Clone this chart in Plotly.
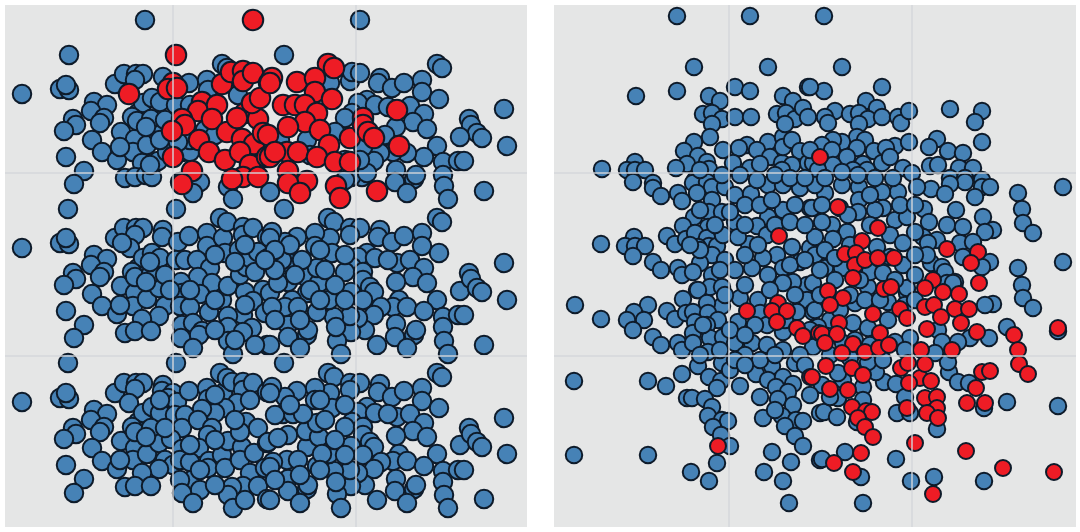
import plotly.graph_objects as go

# The axes run in the picture's own reading units.
grid_left_x = [173, 356]
grid_right_x = [729, 912]
grid_y = [173, 356]

left_blue_top = [(145,20),(360,20),(69,55),(284,55),(22,94),(60,89),(69,90),(66,85),(115,84),(124,74),(136,74),(143,74),(135,80),
(163,77),(189,83),(207,80),(222,64),(227,68),(94,102),(107,105),(91,111),(104,118),(100,123),(73,119),(76,125),(64,131),
(92,140),(102,152),(117,160),(66,157),(84,171),(74,184),(121,132),(135,139),(133,152),(147,145),(158,133),(138,113),(143,103),
(152,98),(160,102),(132,117),(137,121),(151,119),(146,127),(176,105),(142,163),(158,161),(125,178),(135,177),(146,175),(152,177),
(167,152),(182,152),(190,152),(200,182),(193,193),(228,187),(233,199),(180,182),(208,90),(238,95),(330,83),(350,81),(352,72),(360,73),
(380,78),(378,83),(392,88),(404,83),(422,80),(422,92),(437,64),(442,68),(439,99),(504,109),(507,146),(469,119),(471,125),(477,133),(482,138),
(460,137),(367,100),(358,103),(375,105),(352,113),(345,118),(388,107),(410,106),(424,114),(413,122),(396,127),(427,129),(437,146),(424,157),
(443,162),(458,161),(464,161),(407,153),(393,152),(380,153),(374,161),(396,170),(395,182),(414,179),(416,175),(407,193),(443,175),(444,186),
(448,199),(484,191),(362,177),(351,177),(367,173),(270,192),(307,140),(335,132),(363,147),(165,120),(190,105),(205,130),(175,130),(190,140),
(215,135),(280,140),(345,160),(310,155),(255,165),(160,140),(178,142),(345,180),(360,160),(385,135),(150,165),(120,147)]

left_red_top = [(253,20),(176,55),(129,94),(173,83),(168,89),(177,88),(222,84),(231,72),(243,71),(243,81),(253,73),(269,83),(202,102),(198,111),
(217,105),(212,119),(182,119),(185,125),(172,131),(199,140),(227,132),(245,113),(258,119),(252,103),(260,98),(237,118),(242,139),(254,144),(209,152),
(225,160),(240,152),(173,157),(192,171),(182,184),(250,165),(243,177),(232,179),(258,177),(267,157),(263,133),(328,64),(334,68),(272,78),(270,83),
(297,82),(315,78),(315,92),(332,99),(283,105),(295,105),(305,105),(317,113),(305,122),(320,130),(288,127),(268,135),(350,138),(397,110),(363,118),
(363,125),(368,132),(374,138),(399,146),(287,152),(298,152),(329,145),(317,157),(335,162),(350,162),(288,171),(307,181),(288,183),(300,193),(336,186),
(340,198),(377,191),(270,157),(275,152)]

left_blue_mid = [(68,209),(176,209),(22,248),(60,243),(69,244),(66,238),(115,238),(124,228),(136,228),(143,228),(135,235),(130,248),(122,243),
(163,230),(162,237),(178,242),(189,236),(207,233),(207,246),(223,238),(220,218),(227,222),(243,227),(243,235),(253,228),(225,253),(239,250),(267,237),
(94,255),(107,259),(91,265),(104,272),(100,277),(73,273),(76,279),(64,285),(92,294),(102,306),(117,314),(66,311),(84,325),(74,338),(121,286),(135,293),
(133,306),(147,299),(159,288),(138,268),(143,258),(152,253),(160,258),(132,272),(135,277),(151,274),(146,282),(176,260),(185,260),(197,260),(210,268),
(198,277),(212,283),(181,282),(200,294),(182,293),(165,306),(180,306),(190,307),(159,316),(142,319),(209,312),(222,300),(228,286),(245,292),(240,275),
(246,267),(250,258),(258,252),(255,272),(263,290),(253,301),(243,315),(228,316),(228,327),(265,313),(125,333),(135,331),(151,331),(182,325),(193,323),
(202,331),(199,335),(181,338),(193,348),(228,341),(233,354),(252,328),(243,332),(267,345),(284,209),(328,218),(334,222),(350,228),(360,228),(350,235),
(330,238),(315,233),(315,246),(332,253),(297,237),(285,242),(272,232),(270,238),(380,230),(378,237),(392,242),(404,236),(422,233),(422,246),(437,218),
(442,222),(439,253),(367,253),(358,257),(375,258),(352,267),(345,272),(363,272),(363,280),(370,287),(374,292),(351,292),(363,300),(397,263),(388,260),
(410,260),(424,268),(413,277),(396,282),(427,283),(460,291),(469,273),(471,279),(477,288),(482,292),(504,263),(507,300),(437,300),(399,300),(393,307),
(407,307),(381,307),(374,315),(424,311),(443,317),(458,315),(464,315),(443,327),(444,341),(448,354),(484,345),(396,324),(395,337),(414,335),(416,330),
(407,348),(377,345),(365,330),(358,318),(351,332),(350,316),(337,341),(334,317),(336,327),(341,354),(317,312),(329,300),(307,293),(307,335),(308,330),
(288,325),(288,337),(300,348),(270,345),(292,300),(285,307),(298,307),(270,293),(272,307),(288,282),(278,283),(306,277),(319,283),(317,268),(335,285),
(289,263),(282,260),(302,260),(268,258),(215,255),(235,262),(275,270),(295,275),(325,270),(345,255),(310,290),(320,300),(245,305),(215,300),(235,340),
(215,330),(275,320),(300,320),(255,345),(345,300),(150,262),(120,305),(165,275),(170,290),(190,290),(245,245),(290,245),(275,250),(320,250),(265,260)]

left_blue_low = [(68,363),(176,363),(22,402),(60,398),(69,399),(66,393),(115,393),(124,383),(136,383),(143,383),(135,389),(129,403),(163,385),(162,391),
(173,393),(168,398),(177,402),(189,391),(207,388),(208,399),(223,393),(220,373),(227,378),(232,382),(243,382),(243,390),(253,383),(237,403),(225,408),
(215,413),(202,409),(267,392),(94,410),(107,414),(91,420),(104,427),(100,432),(73,428),(76,434),(64,439),(92,448),(102,461),(117,469),(66,465),(84,479),
(74,493),(121,441),(135,448),(133,460),(147,454),(159,443),(138,422),(143,413),(152,407),(160,413),(132,427),(135,432),(151,428),(146,437),(175,415),
(185,415),(182,428),(198,420),(212,428),(208,435),(199,448),(171,439),(182,449),(165,460),(173,465),(180,460),(190,462),(159,469),(142,473),(209,461),
(208,468),(222,455),(228,441),(225,468),(242,447),(240,460),(254,453),(246,422),(258,428),(240,432),(267,443),(250,473),(265,468),(243,486),(258,486),
(232,487),(125,487),(135,486),(151,486),(192,480),(180,480),(200,490),(182,493),(193,503),(228,495),(233,508),(267,499),(284,363),(328,373),(334,377),
(350,383),(360,383),(350,390),(330,393),(315,388),(315,400),(332,408),(297,391),(285,397),(272,387),(270,393),(380,384),(378,392),(392,397),(404,391),
(422,388),(422,401),(437,373),(442,377),(439,408),(504,418),(507,454),(367,407),(358,412),(375,413),(352,422),(345,427),(363,427),(363,435),(370,442),
(374,447),(351,446),(363,455),(397,417),(388,414),(410,414),(424,423),(413,431),(396,436),(427,437),(460,445),(469,428),(471,434),(477,442),(482,447),
(437,454),(399,454),(393,461),(407,461),(381,462),(374,469),(424,466),(443,471),(458,470),(464,470),(443,482),(444,495),(448,508),(484,499),(396,479),
(395,491),(414,489),(416,485),(407,503),(377,500),(365,485),(358,473),(351,486),(350,470),(337,494),(334,471),(336,482),(341,508),(317,466),(329,454),
(307,447),(307,489),(308,485),(288,479),(288,491),(300,503),(270,500),(287,460),(273,462),(298,460),(268,442),(288,435),(278,438),(306,431),(319,437),
(317,423),(335,440),(283,414),(293,414),(303,414),(270,467),(322,454),(215,440),(200,470),(235,420),(250,400),(275,415),(320,470),(245,500),(215,485),
(300,475),(325,420),(345,405),(160,400),(120,460),(165,428),(345,455),(290,405),(190,445),(275,480),(320,400),(215,395)]

right_blue = [(677,16),(750,16),(694,67),(768,67),(636,96),(677,91),(735,87),(750,91),(709,96),(720,101),(703,114),(712,113),(722,119),(712,124),(710,137),
(735,117),(751,117),(694,142),(684,151),(698,156),(687,164),(676,168),(707,162),(709,169),(602,169),(635,162),(627,170),(635,170),(645,170),(768,142),(747,145),
(739,148),(757,150),(770,157),(733,163),(750,168),(760,164),(782,163),(783,137),(783,147),(792,140),(808,87),(783,96),(793,101),(777,114),(786,113),(795,119),
(785,124),(803,108),(808,117),(800,151),(808,163),(792,165),(782,170),(695,180),(633,182),(653,183),
(824,16),(842,67),(882,87),(824,91),(810,87),(866,101),(877,108),(835,111),(850,114),(859,113),(868,119),(859,124),(882,117),(825,117),(828,123),(898,117),(901,123),
(909,111),(950,109),(982,111),(975,122),(982,142),(937,139),(929,147),(948,151),(963,153),(930,166),(938,165),(959,168),(973,168),(857,137),(865,140),(842,142),
(833,140),(822,145),(832,150),(857,148),(874,151),(847,157),(895,146),(886,148),(909,142),(882,163),(833,165),(863,164),(903,168),(890,157),(912,173),(813,163),
(810,150),(818,170),(853,170),(867,170),(982,180),(950,178),(965,178),(1063,187),
(653,188),(661,196),(678,193),(682,201),(694,217),(683,226),(667,236),(675,244),(686,239),(634,237),(625,246),(635,246),(645,246),(633,256),(601,244),(653,262),
(661,270),(678,268),(682,275),(697,290),(683,299),(667,311),(675,319),(686,313),(648,305),(634,312),(644,320),(627,320),(633,330),(575,305),(601,319),(653,337),
(661,345),(678,343),(682,350),(693,183),(707,182),(712,187),(725,187),(697,193),(712,200),(709,212),(722,212),(708,227),(695,233),(707,238),(709,246),(717,246),
(698,247),(723,235),(712,255),(700,263),(725,260),(712,275),(693,272),(710,287),(722,287),(698,290),(722,306),(707,303),(693,312),(708,313),(718,320),(695,322),
(707,325),(693,333),(710,338),(723,337),(693,343),(708,352),(735,195),(751,194),(768,185),(783,185),(800,188),(783,210),(768,217),(757,226),(740,227),(735,222),
(810,208),(792,247),(749,244),(738,237),(767,235),(777,255),(763,258),(800,262),(752,268),(735,270),(783,268),(768,275),(807,285),(810,248),(793,282),(783,283),
(740,298),(758,300),(760,313),(738,322),(752,343),(735,343),(767,325),(783,350),(807,300),(813,312),(797,312),(783,332),(767,345),(813,347),
(1018,193),(1022,209),(1023,223),(1033,233),(1063,262),(1018,268),(1022,285),(1023,298),(1033,308),(1007,327),(993,304),(985,305),(989,338),(970,338),(1058,331),
(982,187),(990,187),(975,197),(965,182),(950,184),(931,189),(945,194),(956,210),(924,209),(929,222),(947,225),(963,227),(983,217),(993,230),(985,232),(937,240),
(923,237),(928,243),(960,243),(973,242),(963,257),(990,262),(982,267),(931,263),(942,267),(927,255),(945,272),(955,282),(947,283),(917,187),(898,192),(882,192),
(859,187),(842,185),(825,193),(815,185),(859,200),(840,208),(858,212),(883,208),(812,208),(832,225),(847,232),(815,237),(833,239),(895,220),(907,217),(875,210),
(890,235),(903,243),(877,247),(815,255),(825,268),(842,268),(868,287),(870,272),(883,273),(903,265),(890,257),(813,283),(855,303),(888,302),(815,310),(830,320),
(853,323),(868,328),(888,320),(818,327),(910,338),(938,330),(942,342),(958,342),(953,283),(907,293),(843,343),(895,342),(907,288),
(574,381),(648,381),(666,386),(682,374),(698,366),(709,377),(721,381),(717,388),(722,363),(730,370),(740,386),(687,398),(692,398),(705,399),(712,407),(708,416),
(722,420),(728,421),(713,427),(721,435),(730,446),(717,463),(691,472),(709,481),(574,455),(648,455),(772,366),(756,374),(768,380),(783,377),(795,363),(776,387),
(793,384),(788,392),(760,397),(778,399),(793,405),(763,418),(782,416),(796,420),(803,421),(785,426),(795,436),(803,446),(772,452),(791,462),(764,472),(783,481),
(789,503),(820,413),(820,460),(775,410),
(822,459),(845,452),(861,477),(863,503),(896,459),(911,481),(934,477),(937,429),(984,481),(1007,402),(1058,406),(824,412),(837,417),(897,413),(884,382),(896,384),
(876,372),(868,362),(883,360),(863,387),(822,385),(838,398),(830,397),(843,380),(838,373),(949,372),(958,382),(969,383),(948,362),(905,397),(910,413),(857,422),
(863,400),(935,353),(984,408),
(722,175),(740,175),(757,180),(775,175),(790,178),(805,178),(825,178),(842,172),(858,175),(875,178),(893,178),(745,205),(760,205),(772,200),(795,205),(822,205),
(870,195),(900,205),(915,205),(730,212),(745,225),(775,225),(790,222),(805,225),(822,222),(848,215),(870,225),(915,232),(745,255),(758,245),(790,265),(805,260),
(825,250),(835,258),(850,245),(835,280),(820,270),(860,280),(895,280),(915,255),(915,275),(745,285),(770,290),(795,295),(820,295),(850,295),(865,300),(880,300),
(905,305),(915,300),(755,325),(785,320),(810,330),(840,310),(855,340),(870,345),(905,350),(745,355),(760,360),(775,355),(800,355),(830,355),(850,358),(700,210),
(700,250),(715,225),(720,270),(703,325),(730,330),(745,335),(720,350),(735,360),(700,355),(745,365),(810,395),(805,365),(690,245),(725,295),(700,170),(723,150)]

right_red = [(820,157),(779,236),(747,311),(778,303),(772,311),(787,311),(777,322),(797,328),(803,336),(819,333),
(838,207),(878,228),(862,241),(845,254),(856,253),(855,265),(865,260),(878,258),(894,258),(853,278),(947,249),(978,252),(971,263),(979,283),(933,280),(925,288),
(943,292),(959,294),(884,289),(891,287),(828,291),(843,298),(830,305),(925,307),(934,305),(955,309),(969,309),(941,317),(900,309),(873,314),(907,318),(961,323),
(927,329),(977,332),(1014,335),(1058,328),(839,323),(822,334),(837,334),(880,333),(825,343),(853,344),(865,352),(879,348),(889,345),(921,350),(952,350),(1018,350),
(842,353),(718,446),(810,377),(826,366),(812,377),(852,368),(863,375),(830,389),(848,390),(852,407),(866,411),(872,412),(858,418),(865,427),(873,437),(861,453),
(834,463),(853,472),(901,368),(908,363),(920,378),(909,383),(931,381),(925,364),(925,398),(937,397),(937,408),(927,413),(938,418),(907,408),(915,443),(966,451),
(1003,468),(1054,472),(933,494),(967,403),(985,403),(976,388),(982,372),(990,371),(1019,364),(1028,374)]

BLUE = "#4682b6"
RED = "#ee1c25"
EDGE = "#0e1b2a"
BG = "#e5e6e6"
W, H = 1080, 532
L0, L1, R0, R1, T, B = 5, 527, 554, 1076, 5, 527


def add(fig, pts, color, size, xa, ya):
    fig.add_trace(go.Scatter(x=[p[0] for p in pts], y=[p[1] for p in pts], mode="markers", xaxis=xa, yaxis=ya,
                             cliponaxis=False, showlegend=False, hoverinfo="skip",
                             marker=dict(color=color, size=size, line=dict(color=EDGE, width=2))))


fig = go.Figure()
add(fig, left_blue_top + left_blue_mid + left_blue_low, BLUE, 18.5, "x", "y")
add(fig, left_red_top, RED, 20.5, "x", "y")
add(fig, right_blue, BLUE, 16.5, "x2", "y2")
add(fig, right_red, RED, 16, "x2", "y2")

GRID = "rgba(212,214,218,0.7)"
shapes = []
for gx, xr, yr in ((grid_left_x, "x", "y"), (grid_right_x, "x2", "y2")):
    lo, hi = (L0, L1) if xr == "x" else (R0, R1)
    for v in gx:
        shapes.append(dict(type="line", xref=xr, yref=yr, x0=v, x1=v, y0=T, y1=B, layer="above", line=dict(color=GRID, width=2)))
    for v in grid_y:
        shapes.append(dict(type="line", xref=xr, yref=yr, x0=lo, x1=hi, y0=v, y1=v, layer="above", line=dict(color=GRID, width=2)))
for xr, yr, lo, hi in (("x domain", "y domain", 0, 1), ("x2 domain", "y2 domain", 0, 1)):
    shapes.append(dict(type="rect", xref=xr, yref=yr, x0=lo, x1=hi, y0=0, y1=1, layer="below", fillcolor=BG, line=dict(width=0)))

ax = dict(showgrid=False, zeroline=False, showticklabels=False, ticks="", showline=False)
fig.update_layout(
    width=W, height=H, autosize=False, margin=dict(l=0, r=0, t=0, b=0),
    paper_bgcolor="white", plot_bgcolor="white", shapes=shapes,
    xaxis=dict(ax, domain=[L0 / W, L1 / W], range=[L0, L1]),
    yaxis=dict(ax, domain=[(H - B) / H, (H - T) / H], range=[B, T], anchor="x"),
    xaxis2=dict(ax, domain=[R0 / W, R1 / W], range=[R0, R1]),
    yaxis2=dict(ax, domain=[(H - B) / H, (H - T) / H], range=[B, T], anchor="x2"),
)
fig.write_html("out.html", config={"displayModeBar": False},
               post_script="document.body.style.margin='0';document.documentElement.style.overflow='hidden';")
